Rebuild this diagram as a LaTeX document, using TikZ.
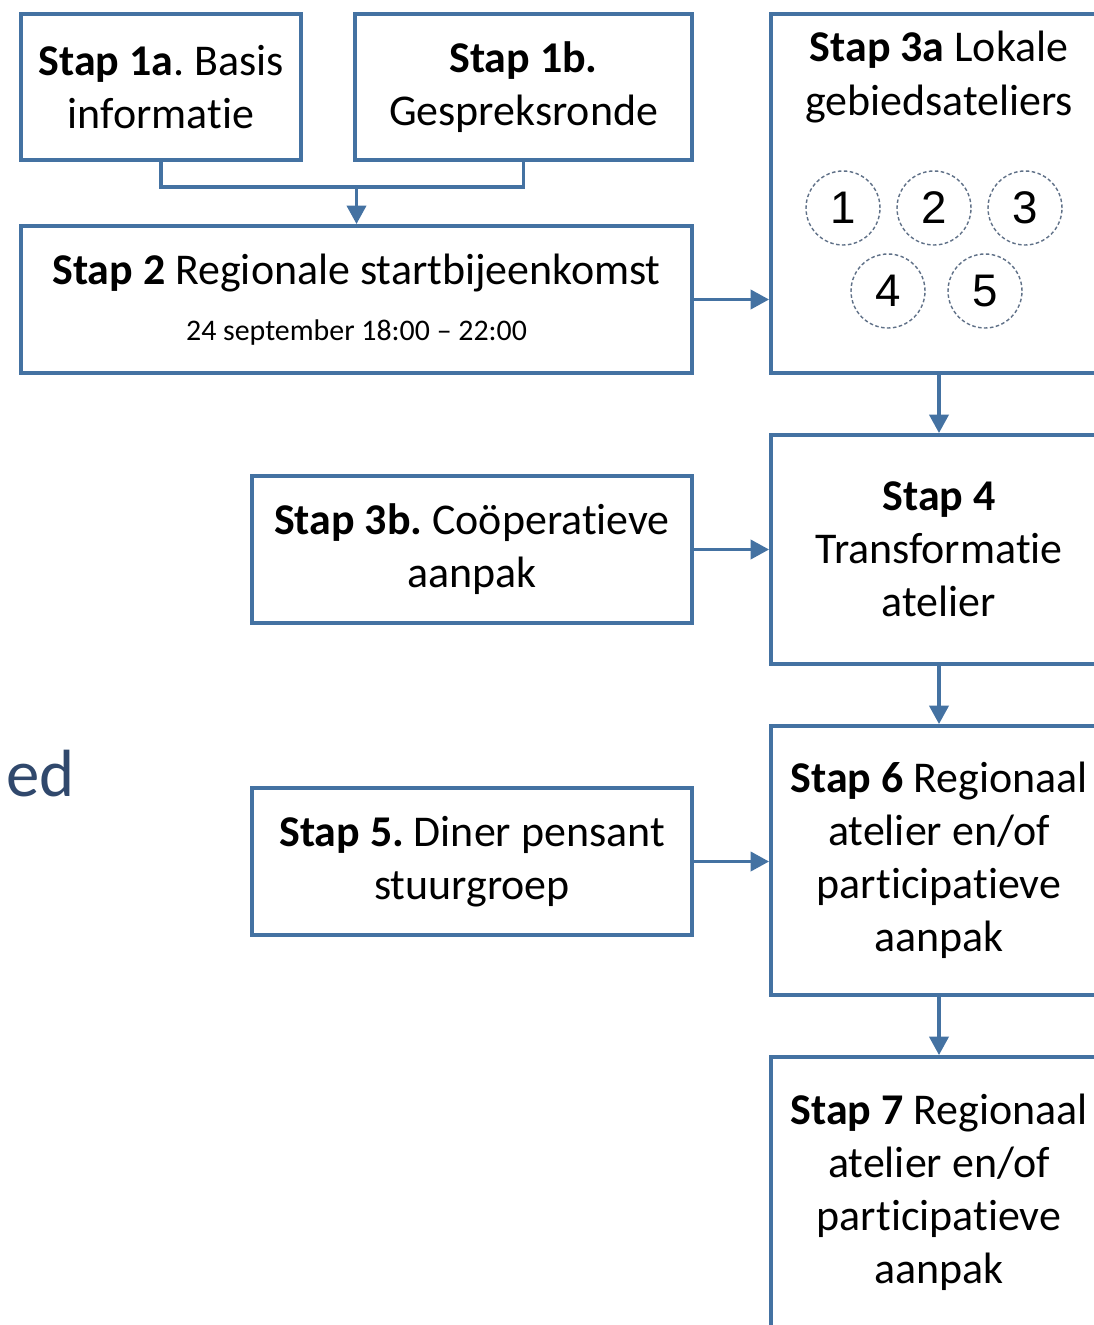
\documentclass[tikz,border=0pt]{standalone}
\usepackage{fontspec}
\setmainfont{Carlito}[Ligatures=NoCommon]
\newfontfamily\digitfont{Liberation Sans}
\usetikzlibrary{arrows.meta}
\definecolor{stepblue}{RGB}{68,114,162}
\definecolor{ringgray}{RGB}{95,112,135}
\definecolor{edblue}{RGB}{48,72,108}
\frenchspacing

\begin{document}
\begin{tikzpicture}[
x=0.02cm, y=-0.02cm,
box/.style={
	rectangle,
	draw=stepblue,
	line width=2.3pt,
	fill=white,
	align=center,
	inner sep=0pt,
	font=\fontsize{25}{30.2}\selectfont
},
title/.style={
	align=center,
	inner sep=0pt,
	font=\fontsize{25}{30.2}\selectfont
},
ring/.style={
	circle,
	draw=ringgray,
	line width=0.8pt,
	dash pattern=on 2pt off 1.4pt,
	minimum size=1.48cm,
	inner sep=0pt,
	font=\digitfont\fontsize{26}{26}\selectfont
},
link/.style={
	draw=stepblue,
	line width=1.8pt
},
arrow/.style={
	link,
	-{Triangle[length=10.5pt,width=11pt]}
}
]
\useasboundingbox (0,0) rectangle (1094,1325);
\clip (0,0) rectangle (1094,1325);

% Left column
\node [box, minimum width=5.6cm, minimum height=2.92cm] (Stap1a) at (161,87) {\textbf{Stap 1a}. Basis\\informatie};
\node [box, minimum width=6.74cm, minimum height=2.92cm] (Stap1b) at (523.5,87) {\textbf{Stap 1b.}\\Gespreksronde};
\node [box, minimum width=13.42cm, minimum height=2.94cm] (Stap2) at (356.5,299.5) {\textbf{Stap 2} Regionale startbijeenkomst\\[2pt]{\fontsize{17}{20}\selectfont 24 september 18:00 -- 22:00}};
\node [box, minimum width=8.8cm, minimum height=2.94cm] (Stap3b) at (472,549.5) {\textbf{Stap 3b.} Coöperatieve\\aanpak};
\node [box, minimum width=8.8cm, minimum height=2.94cm] (Stap5) at (472,861.5) {\textbf{Stap 5.} Diner pensant\\stuurgroep};

% Right column
\node [box, minimum width=6.72cm, minimum height=7.18cm] (Stap3a) at (939,193.5) {};
\node [title] (Stap3aTitle) at (939,77) {\textbf{Stap 3a} Lokale\\gebiedsateliers};
\node [box, minimum width=6.72cm, minimum height=4.58cm] (Stap4) at (939,549.5) {\textbf{Stap 4}\\Transformatie\\atelier};
\node [box, minimum width=6.72cm, minimum height=5.38cm] (Stap6) at (939,860.5) {\textbf{Stap 6} Regionaal\\atelier en/of\\participatieve\\aanpak};
\node [box, minimum width=6.72cm, minimum height=5.4cm] (Stap7) at (939,1192) {\textbf{Stap 7} Regionaal\\atelier en/of\\participatieve\\aanpak};

% Ateliers
\node [ring] (A1) at (843,208) {1};
\node [ring] (A2) at (934,208) {2};
\node [ring] (A3) at (1025,208) {3};
\node [ring] (A4) at (888,291) {4};
\node [ring] (A5) at (985,291) {5};

% Cut-off word
\node [anchor=base west, inner sep=0pt, text=edblue, font=\fontsize{38}{40}\selectfont] (Gebied) at (6,796) {ed};

% Connectors
\coordinate (Merge) at (356.5,187);
\draw [link] (Stap1a.south) |- (Merge) -| (Stap1b.south);
\draw [arrow] (Merge) -- (Stap2.north);
\draw [arrow] (Stap2.east) -- (Stap2.east -| Stap3a.west);
\draw [arrow] (Stap3a.south) -- (Stap4.north);
\draw [arrow] (Stap3b.east) -- (Stap3b.east -| Stap4.west);
\draw [arrow] (Stap4.south) -- (Stap6.north);
\draw [arrow] (Stap5.east) -- (Stap5.east -| Stap6.west);
\draw [arrow] (Stap6.south) -- (Stap7.north);

\end{tikzpicture}
\end{document}
